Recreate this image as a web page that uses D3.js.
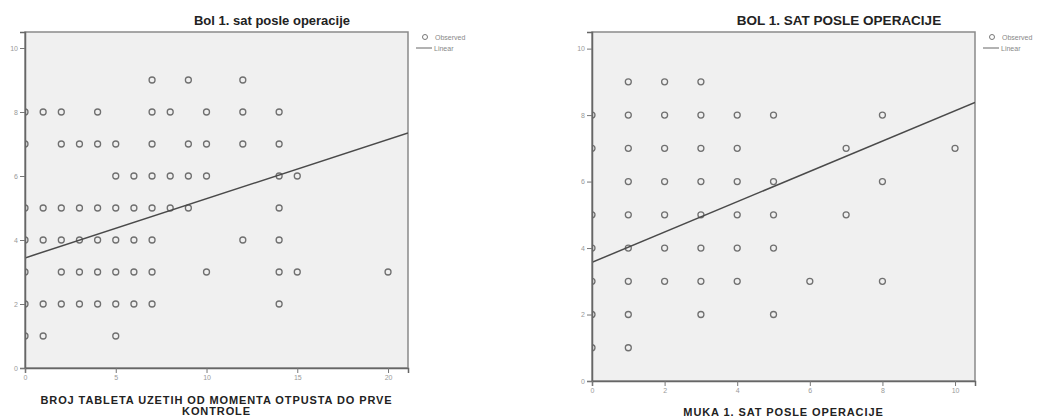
<!DOCTYPE html>
<html>
<head>
<meta charset="utf-8">
<script src="https://cdn.jsdelivr.net/npm/d3@7"></script>
<style>
  body { margin: 0; background: #fff; }
  svg text { font-family: Arial, "Liberation Sans", sans-serif; }
</style>
</head>
<body>
<div id="chart"></div>
<script>
// Left chart: Broj tableta vs Bol 1. sat
var leftX = [7,9,12,
             0,1,2,4,7,8,10,12,14,
             0,2,3,4,5,7,9,10,12,14,
             5,6,7,8,9,10,14,15,
             0,1,2,3,4,5,6,7,8,9,14,
             0,1,2,3,4,5,6,7,12,14,
             0,2,3,4,5,6,7,10,14,15,20,
             0,1,2,3,4,5,6,7,14,
             0,1,5];
var leftY = [9,9,9,
             8,8,8,8,8,8,8,8,8,
             7,7,7,7,7,7,7,7,7,7,
             6,6,6,6,6,6,6,6,
             5,5,5,5,5,5,5,5,5,5,5,
             4,4,4,4,4,4,4,4,4,4,
             3,3,3,3,3,3,3,3,3,3,3,
             2,2,2,2,2,2,2,2,2,
             1,1,1];
var leftFit = {intercept: 3.44, slope: 0.185};

// Right chart: Muka 1. sat vs Bol 1. sat
var rightX = [1,2,3,
              0,1,2,3,4,5,8,
              0,1,2,3,4,7,10,
              1,2,3,4,5,8,
              0,1,2,3,4,5,7,
              0,1,2,3,4,5,
              0,1,2,3,4,6,8,
              0,1,3,5,
              0,1];
var rightY = [9,9,9,
              8,8,8,8,8,8,8,
              7,7,7,7,7,7,7,
              6,6,6,6,6,6,
              5,5,5,5,5,5,5,
              4,4,4,4,4,4,
              3,3,3,3,3,3,3,
              2,2,2,2,
              1,1];
var rightFit = {intercept: 3.57, slope: 0.456};

var yTicks = [0,2,4,6,8,10];
var legendLabels = ["Observed", "Linear"];

var svg = d3.select("#chart").append("svg")
    .attr("width", 1043).attr("height", 419);

function drawPanel(cfg) {
  var x = d3.scaleLinear().domain(cfg.xDomain).range([cfg.left, cfg.right]);
  var y = d3.scaleLinear().domain([0, 10.5]).range([cfg.bottom, cfg.top]);
  var g = svg.append("g");
  var clipId = "clip" + cfg.id;

  g.append("clipPath").attr("id", clipId).append("rect")
    .attr("x", cfg.left).attr("y", cfg.top)
    .attr("width", cfg.right - cfg.left).attr("height", cfg.bottom - cfg.top);

  // plot background and frame
  g.append("rect")
    .attr("x", cfg.left).attr("y", cfg.top)
    .attr("width", cfg.right - cfg.left).attr("height", cfg.bottom - cfg.top)
    .attr("fill", "#f0f0f0").attr("stroke", "#8a8a8a").attr("stroke-width", 1.5);

  // points
  var pts = cfg.xs.map(function(v, i) { return [v, cfg.ys[i]]; });
  g.append("g").attr("clip-path", "url(#" + clipId + ")")
    .selectAll("circle").data(pts).enter().append("circle")
    .attr("cx", function(d) { return x(d[0]); })
    .attr("cy", function(d) { return y(d[1]); })
    .attr("r", 3)
    .attr("fill", "none")
    .attr("stroke", "#707070")
    .attr("stroke-width", 1.3);

  // regression line
  var x0 = cfg.xDomain[0], x1 = cfg.xDomain[1];
  g.append("line").attr("clip-path", "url(#" + clipId + ")")
    .attr("x1", x(x0)).attr("y1", y(cfg.fit.intercept + cfg.fit.slope * x0))
    .attr("x2", x(x1)).attr("y2", y(cfg.fit.intercept + cfg.fit.slope * x1))
    .attr("stroke", "#4a4a4a").attr("stroke-width", 1.5);

  // axes
  var yAxis = d3.axisLeft(y).tickValues(yTicks).tickSize(5).tickPadding(2);
  var gy = g.append("g").attr("transform", "translate(" + cfg.left + ",0)").call(yAxis);
  var xAxis = d3.axisBottom(x).tickValues(cfg.xTicks).tickSize(5).tickPadding(2);
  var gx = g.append("g").attr("transform", "translate(0," + cfg.bottom + ")").call(xAxis);
  [gy, gx].forEach(function(a) {
    a.select(".domain").attr("stroke", "#666").attr("stroke-width", 1.5);
    a.selectAll(".tick line").attr("stroke", "#777");
    a.selectAll(".tick text").attr("fill", "#999").style("font-size", "7px");
  });

  // title
  g.append("text").attr("x", cfg.titleX).attr("y", 25)
    .attr("text-anchor", "middle").style("font-size", cfg.titleSize).style("font-weight", "bold")
    .attr("fill", "#222").text(cfg.title);

  // x label
  cfg.xLabel.forEach(function(t, i) {
    g.append("text").attr("x", (cfg.left + cfg.right) / 2).attr("y", cfg.labelY + i * 11)
      .attr("text-anchor", "middle").style("font-size", "11px").style("font-weight", "bold")
      .style("letter-spacing", "0.9px")
      .attr("fill", "#222").text(t);
  });

  // legend
  var lx = cfg.right;
  g.append("circle").attr("cx", lx + 17).attr("cy", 37).attr("r", 2.5)
    .attr("fill", "none").attr("stroke", "#777").attr("stroke-width", 1);
  g.append("text").attr("x", lx + 27).attr("y", 40).style("font-size", "7px")
    .attr("fill", "#888").text(legendLabels[0]);
  g.append("line").attr("x1", lx + 8).attr("x2", lx + 24).attr("y1", 48).attr("y2", 48)
    .attr("stroke", "#666").attr("stroke-width", 1);
  g.append("text").attr("x", lx + 26).attr("y", 51).style("font-size", "7px")
    .attr("fill", "#888").text(legendLabels[1]);
}

drawPanel({
  id: "L", xs: leftX, ys: leftY, fit: leftFit,
  xDomain: [0, 21.1], xTicks: [0,5,10,15,20],
  left: 25, right: 408, top: 32, bottom: 368,
  title: "Bol 1. sat posle operacije", titleX: 272, titleSize: "13px",
  xLabel: ["BROJ TABLETA UZETIH OD MOMENTA OTPUSTA DO PRVE", "KONTROLE"], labelY: 404
});

drawPanel({
  id: "R", xs: rightX, ys: rightY, fit: rightFit,
  xDomain: [0, 10.55], xTicks: [0,2,4,6,8,10],
  left: 592, right: 975, top: 32, bottom: 381,
  title: "BOL 1. SAT POSLE OPERACIJE", titleX: 839, titleSize: "13.5px",
  xLabel: ["MUKA 1. SAT POSLE OPERACIJE"], labelY: 416
});
</script>
</body>
</html>
